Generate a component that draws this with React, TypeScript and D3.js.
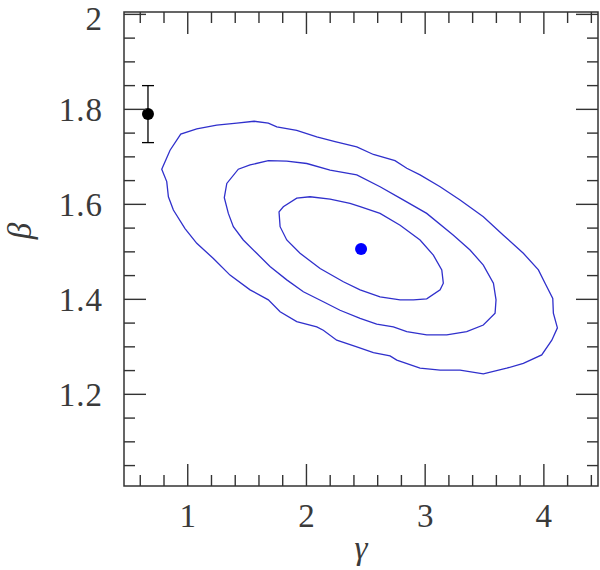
import React from "react";
import * as d3 from "d3";

// ---- data ----
const xMajorTicks = [1, 2, 3, 4];
const yMajorTicks = [1.2, 1.4, 1.6, 1.8, 2.0];
const yTickLabels = ["1.2", "1.4", "1.6", "1.8", "2"];
const xTickLabels = ["1", "2", "3", "4"];

// contour levels: [gamma, beta]
const outerContour: [number, number][] = [
  [0.781, 1.674], [0.851, 1.714], [0.941, 1.748], [1.076, 1.759], [1.244, 1.767],
  [1.413, 1.771], [1.559, 1.775], [1.679, 1.771], [1.75, 1.763], [1.918, 1.756],
  [2.087, 1.742], [2.241, 1.732], [2.424, 1.721], [2.564, 1.705], [2.746, 1.692],
  [2.845, 1.676], [2.957, 1.662], [3.126, 1.637], [3.294, 1.609], [3.49, 1.574],
  [3.659, 1.535], [3.827, 1.497], [3.954, 1.462], [4.01, 1.434], [4.075, 1.402],
  [4.08, 1.371], [4.114, 1.34], [4.067, 1.314], [3.982, 1.283], [3.827, 1.265],
  [3.687, 1.255], [3.49, 1.243], [3.294, 1.251], [3.126, 1.251], [2.957, 1.255],
  [2.761, 1.272], [2.704, 1.281], [2.564, 1.288], [2.424, 1.3], [2.255, 1.314],
  [2.142, 1.335], [2.087, 1.342], [1.918, 1.353], [1.778, 1.374], [1.679, 1.399],
  [1.525, 1.42], [1.356, 1.451], [1.216, 1.486], [1.076, 1.518], [0.977, 1.549],
  [0.879, 1.588], [0.837, 1.616], [0.823, 1.648],
];

const middleContour: [number, number][] = [
  [1.308, 1.614], [1.329, 1.644], [1.426, 1.674], [1.525, 1.683], [1.679, 1.692],
  [1.834, 1.691], [2.003, 1.686], [2.199, 1.672], [2.424, 1.662], [2.62, 1.637],
  [2.789, 1.613], [3.013, 1.581], [3.238, 1.535], [3.378, 1.504], [3.49, 1.472],
  [3.575, 1.434], [3.597, 1.399], [3.589, 1.371], [3.49, 1.346], [3.35, 1.332],
  [3.182, 1.325], [3.013, 1.325], [2.845, 1.332], [2.732, 1.342], [2.592, 1.348],
  [2.452, 1.36], [2.283, 1.377], [2.142, 1.395], [1.974, 1.416], [1.834, 1.441],
  [1.693, 1.469], [1.581, 1.497], [1.468, 1.525], [1.384, 1.553], [1.342, 1.581],
];

const innerContour: [number, number][] = [
  [1.769, 1.584], [1.805, 1.595], [1.918, 1.613], [2.03, 1.616], [2.199, 1.611],
  [2.367, 1.602], [2.452, 1.595], [2.62, 1.581], [2.789, 1.556], [2.957, 1.525],
  [3.069, 1.493], [3.14, 1.462], [3.153, 1.434], [3.126, 1.42], [3.013, 1.401],
  [2.901, 1.399], [2.789, 1.399], [2.62, 1.405], [2.452, 1.42], [2.311, 1.437],
  [2.115, 1.465], [1.946, 1.497], [1.834, 1.525], [1.778, 1.553],
];

const bestFit = { gamma: 2.46, beta: 1.506 };
const reference = { gamma: 0.665, beta: 1.79, err: 0.06 };

// ---- layout ----
const W = 600;
const H = 570;
const left = 124, right = 598, top = 12, bottom = 486;

export default function App() {
  const x = d3.scaleLinear().domain([0.463, 4.456]).range([left, right]);
  const y = d3.scaleLinear().domain([1.007, 2.005]).range([bottom, top]);

  const xMinor = d3.range(0.6, 4.45, 0.2).filter(v => Math.abs(v - Math.round(v)) > 1e-6);
  const yMinor = d3.range(1.05, 2.001, 0.05).filter(v => !yMajorTicks.some(m => Math.abs(m - v) < 1e-6));

  const line = d3.line<[number, number]>().x(d => x(d[0])).y(d => y(d[1])).curve(d3.curveLinearClosed);

  const major = 22, minor = 11;
  const axisColor = "#333";
  const font = "'Liberation Serif', 'Times New Roman', serif";
  const fontSize = 33;

  return (
    <svg width={W} height={H} style={{ position: "absolute", left: 0, top: 0, background: "#fff" }}>
      {/* contours */}
      {[outerContour, middleContour, innerContour].map((c, i) => (
        <path key={i} d={line(c) || ""} fill="none" stroke="#3030cc" strokeWidth={1.3} />
      ))}
      {/* best fit */}
      <circle cx={x(bestFit.gamma)} cy={y(bestFit.beta)} r={6} fill="#0000ff" />
      {/* reference point with error bar */}
      <g stroke="#000" strokeWidth={1.3}>
        <line x1={x(reference.gamma)} x2={x(reference.gamma)} y1={y(reference.beta - reference.err)} y2={y(reference.beta + reference.err)} />
        <line x1={x(reference.gamma) - 6} x2={x(reference.gamma) + 6} y1={y(reference.beta - reference.err)} y2={y(reference.beta - reference.err)} />
        <line x1={x(reference.gamma) - 6} x2={x(reference.gamma) + 6} y1={y(reference.beta + reference.err)} y2={y(reference.beta + reference.err)} />
      </g>
      <circle cx={x(reference.gamma)} cy={y(reference.beta)} r={6} fill="#000" />

      {/* frame */}
      <rect x={left} y={top} width={right - left} height={bottom - top} fill="none" stroke={axisColor} strokeWidth={1.5} />
      <g stroke={axisColor} strokeWidth={1.4}>
        {xMajorTicks.map(v => (
          <g key={"xM" + v}>
            <line x1={x(v)} x2={x(v)} y1={bottom} y2={bottom - major} />
            <line x1={x(v)} x2={x(v)} y1={top} y2={top + major} />
          </g>
        ))}
        {xMinor.map(v => (
          <g key={"xm" + v}>
            <line x1={x(v)} x2={x(v)} y1={bottom} y2={bottom - minor} />
            <line x1={x(v)} x2={x(v)} y1={top} y2={top + minor} />
          </g>
        ))}
        {yMajorTicks.map(v => (
          <g key={"yM" + v}>
            <line x1={left} x2={left + major} y1={y(v)} y2={y(v)} />
            <line x1={right} x2={right - major} y1={y(v)} y2={y(v)} />
          </g>
        ))}
        {yMinor.map(v => (
          <g key={"ym" + v}>
            <line x1={left} x2={left + minor} y1={y(v)} y2={y(v)} />
            <line x1={right} x2={right - minor} y1={y(v)} y2={y(v)} />
          </g>
        ))}
      </g>

      {/* tick labels */}
      <g fontFamily={font} fontSize={fontSize} fill="#3a3a3a">
        {xMajorTicks.map((v, i) => (
          <text key={"xl" + v} x={x(v)} y={527} textAnchor="middle">{xTickLabels[i]}</text>
        ))}
        {yMajorTicks.map((v, i) => (
          <text key={"yl" + v} x={103} y={Math.max(y(v) + 11.5, fontSize * 0.9)} textAnchor="end" letterSpacing={1}>{yTickLabels[i]}</text>
        ))}
        <text x={(left + right) / 2} y={559} textAnchor="middle" fontStyle="italic">γ</text>
        <text transform={`translate(31, ${(top + bottom) / 2 - 18}) rotate(-90)`} textAnchor="middle" fontStyle="italic">β</text>
      </g>
    </svg>
  );
}
